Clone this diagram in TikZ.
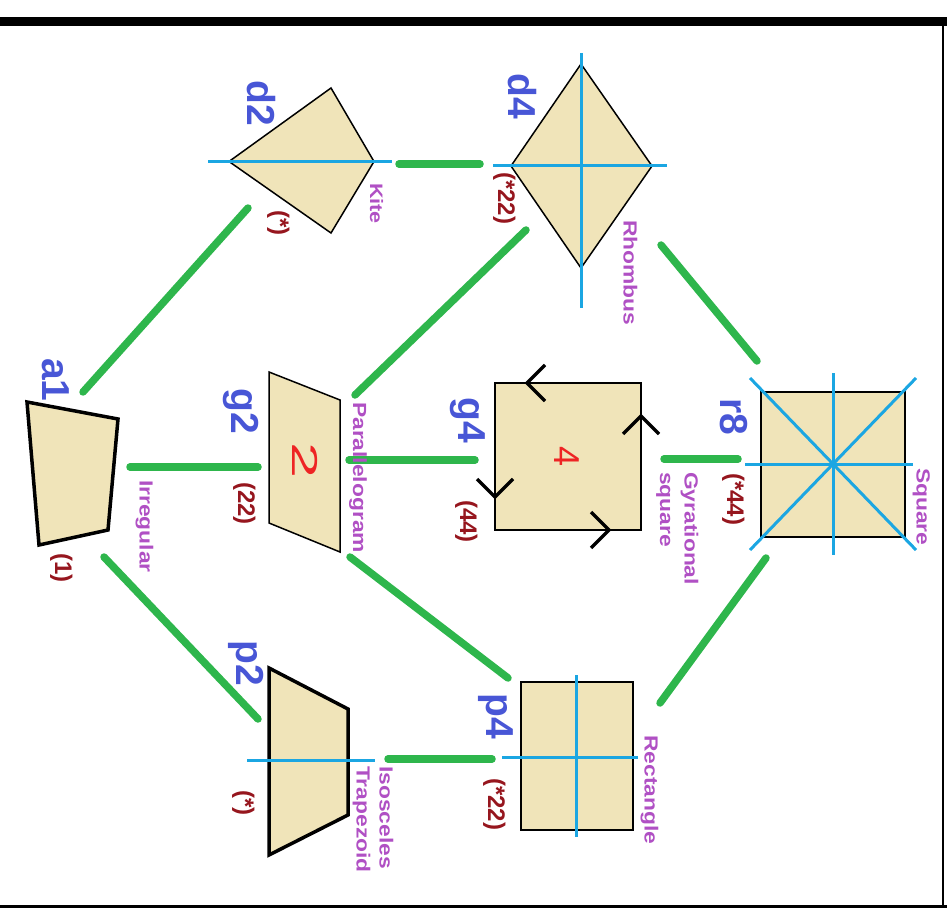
\documentclass[tikz,border=0pt]{standalone}
\usepackage{fontspec}
\setmainfont{Liberation Sans}
\newfontfamily\kindfont[FakeStretch=1.2]{Liberation Sans}

\definecolor{shapebeige}{RGB}{240,228,185}
\definecolor{edgegreen}{RGB}{46,182,76}
\definecolor{axisblue}{RGB}{27,166,226}
\definecolor{grpblue}{RGB}{72,86,214}
\definecolor{orbred}{RGB}{150,22,30}
\definecolor{kindpurple}{RGB}{176,80,196}
\definecolor{digitred}{RGB}{238,36,36}

\tikzset{
  tile/.style={fill=shapebeige, draw=black, line join=miter},
  edge/.style={draw=edgegreen, line width=7.5pt, line cap=round},
  mirror/.style={draw=axisblue, line width=3pt},
  gyro/.style={draw=black, line width=3.5pt, line join=miter},
  grp/.style={text=grpblue, font=\fontsize{39}{39}\selectfont\bfseries,
    rotate=-90, inner sep=0pt, anchor=base west},
  orb/.style={text=orbred, font=\fontsize{24}{24}\selectfont\bfseries,
    rotate=-90, inner sep=0pt, anchor=base west},
  kind/.style={text=kindpurple, font=\kindfont\fontsize{19}{24}\selectfont\bfseries,
    rotate=-90, inner sep=0pt, anchor=base west},
  order/.style={text=digitred, font=\fontsize{36}{36}\selectfont,
    rotate=-90, inner sep=0pt}
}

\begin{document}
\begin{tikzpicture}[x=1pt, y=-1pt]
\useasboundingbox (0,0) rectangle (947,909);

% page frame
\fill[black] (0,17) rectangle (947,26);
\draw[black, line width=2.5pt] (943,26) -- (943,906);
\draw[black, line width=3pt] (0,906) -- (947,906);

% ---- tiles ----
% a1 irregular quadrilateral
\draw[tile, line width=3.5pt] (27,402) -- (118,419) -- (108,530) -- (39,545) -- cycle;

% d2 kite
\draw[tile, line width=1.5pt] (229,161.5) -- (331,88) -- (374,161.5) -- (331,233) -- cycle;
\draw[mirror] (208,161.5) -- (392,161.5);

% d4 rhombus
\draw[tile, line width=1.5pt] (511,166) -- (581,64) -- (652,166) -- (581,268) -- cycle;
\draw[mirror] (493,166) -- (667,166);
\draw[mirror] (581,53) -- (581,308);

% g2 parallelogram
\draw[tile, line width=1.5pt] (269,372) -- (340,400) -- (340,552) -- (269,523) -- cycle;
\node[order] (ord2) at (305,461) {\scalebox{1.8}[1]{2}};

% g4 gyration square
\draw[tile, line width=2.5pt] (495,383) rectangle (641,530);
\node[order] (ord4) at (567,457) {4};
\draw[gyro] (545,365) -- (527,383) -- (545,401);
\draw[gyro] (623,434) -- (641,416) -- (659,434);
\draw[gyro] (591,512) -- (609,530) -- (591,548);
\draw[gyro] (477,479) -- (495,497) -- (513,479);

% r8 square
\draw[tile, line width=2.5pt] (761,392) rectangle (905,537);
\draw[mirror] (833,373) -- (833,555);
\draw[mirror] (745,464) -- (913,464);
\draw[mirror] (750,378) -- (916,550);
\draw[mirror] (916,378) -- (750,550);
\fill[axisblue] (833,464) circle (3.5pt);

% p2 isosceles trapezoid
\draw[tile, line width=3.5pt] (269,668) -- (348,709) -- (348,815) -- (269,855) -- cycle;
\draw[mirror] (247,760) -- (375,760);

% p4 rectangle
\draw[tile, line width=2pt] (521,682) rectangle (633,830);
\draw[mirror] (576,675) -- (576,837);
\draw[mirror] (502,757) -- (638,757);

% ---- connector ends ----
\coordinate (a1-d2) at (83,392);   \coordinate (d2-a1) at (248,208);
\coordinate (a1-g2) at (130,467);  \coordinate (g2-a1) at (258,467);
\coordinate (a1-p2) at (104,557);  \coordinate (p2-a1) at (258,719);
\coordinate (d2-d4) at (399,164);  \coordinate (d4-d2) at (480,164);
\coordinate (g2-d4) at (355,395);  \coordinate (d4-g2) at (526,230);
\coordinate (d4-r8) at (661,245);  \coordinate (r8-d4) at (757,361);
\coordinate (g2-g4) at (349,460);  \coordinate (g4-g2) at (475,460);
\coordinate (g2-p4) at (350,557);  \coordinate (p4-g2) at (508,678);
\coordinate (g4-r8) at (664,459);  \coordinate (r8-g4) at (738,459);
\coordinate (p2-p4) at (388,759);  \coordinate (p4-p2) at (492,759);
\coordinate (p4-r8) at (660,703);  \coordinate (r8-p4) at (766,558);

% ---- connectors ----
\draw[edge] (a1-d2) -- (d2-a1);
\draw[edge] (a1-g2) -- (g2-a1);
\draw[edge] (a1-p2) -- (p2-a1);
\draw[edge] (d2-d4) -- (d4-d2);
\draw[edge] (g2-d4) -- (d4-g2);
\draw[edge] (d4-r8) -- (r8-d4);
\draw[edge] (g2-g4) -- (g4-g2);
\draw[edge] (g2-p4) -- (p4-g2);
\draw[edge] (g4-r8) -- (r8-g4);
\draw[edge] (p2-p4) -- (p4-p2);
\draw[edge] (p4-r8) -- (r8-p4);

% ---- group names ----
\node[grp] (n-a1) at (42,358) {a1};
\node[grp] (n-d2) at (247,80) {d2};
\node[grp] (n-d4) at (508,73) {d4};
\node[grp] (n-g2) at (231,388) {g2};
\node[grp] (n-g4) at (458,397) {g4};
\node[grp] (n-r8) at (720,398) {r8};
\node[grp] (n-p2) at (236,640) {p2};
\node[grp] (n-p4) at (486,693) {p4};

% ---- orbifold notation ----
\node[orb] (o-a1) at (55,553) {(1)};
\node[orb] (o-d2) at (272,210) {(*)};
\node[orb] (o-d4) at (498,172) {(*22)};
\node[orb] (o-g2) at (238,482) {(22)};
\node[orb] (o-g4) at (460,500) {(44)};
\node[orb] (o-r8) at (727,473) {(*44)};
\node[orb] (o-p2) at (237,790) {(*)};
\node[orb] (o-p4) at (488,778) {(*22)};

% ---- shape names ----
\node[kind] (k-a1) at (139.5,480) {Irregular};
\node[kind, font=\kindfont\fontsize{18}{22}\selectfont\bfseries] (k-d2) at (370,183) {Kite};
\node[kind] (k-d4) at (623.5,220) {Rhombus};
\node[kind] (k-g2) at (353,402) {Parallelogram};
\node[kind] (k-g4a) at (684.5,472) {Gyrational};
\node[kind] (k-g4b) at (660,472) {square};
\node[kind] (k-r8) at (916.5,468) {Square};
\node[kind] (k-p2a) at (379.5,766) {Isosceles};
\node[kind] (k-p2b) at (356.5,766) {Trapezoid};
\node[kind] (k-p4) at (644.5,735) {Rectangle};
\end{tikzpicture}
\end{document}
